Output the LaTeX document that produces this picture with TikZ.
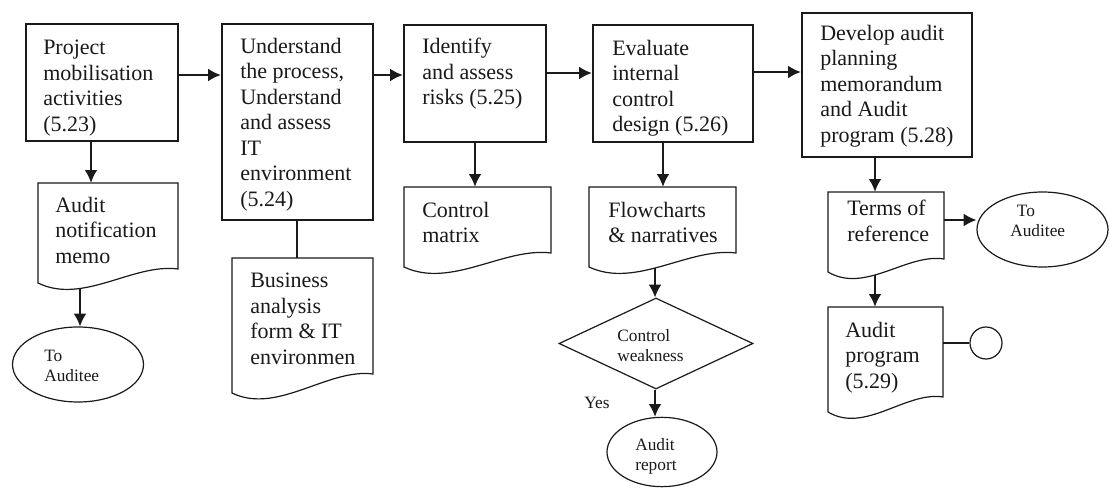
\documentclass[tikz,border=0pt]{standalone}
\usepackage{fontspec}
\setmainfont{Liberation Serif}
\usetikzlibrary{shapes.geometric,arrows.meta,fit,calc}

\definecolor{ink}{HTML}{1A1A1A}

\tikzset{
  proc/.style={draw=ink, line width=1.8pt, inner sep=0pt},
  docline/.style={draw=ink, line width=0.9pt},
  docarea/.style={inner sep=0pt},
  txt/.style={anchor=north west, inner sep=0pt, align=left, text=ink,
    font=\fontsize{16.5}{19.1}\selectfont},
  smalltxt/.style={anchor=north west, inner sep=0pt, align=left, text=ink,
    font=\fontsize{13}{15}\selectfont},
  term/.style={ellipse, draw=ink, line width=0.9pt, inner sep=0pt},
  decision/.style={diamond, draw=ink, line width=0.9pt, inner sep=0pt},
  connector/.style={circle, draw=ink, line width=0.9pt, inner sep=0pt, minimum size=24pt},
  arr/.style={draw=ink, line width=1.1pt, -{Latex[length=9.5pt,width=9.5pt]}},
  link/.style={draw=ink, line width=1.1pt},
}

% document symbol: name, left, top, right, bottom-left, bottom-right
\newcommand{\docshape}[6]{%
  \pgfmathsetmacro{\dw}{#4-#2}%
  \draw[docline] (#2,#3) -- (#4,#3) -- (#4,#6)
    .. controls ({#2+0.68*\dw},{#6-6}) and ({#2+0.32*\dw},{#5+22}) .. (#2,#5) -- cycle;
  \node[docarea, fit={(#2,#3) (#4,#6)}] (#1) {};
}

\begin{document}
\begin{tikzpicture}[x=0.75pt, y=-0.75pt]
\useasboundingbox (0,0) rectangle (1110,488);
\fill[white] (0,0) rectangle (1110,488);

% process steps
\node[proc, fit={(26,24) (178,141)}] (p1) {};
\node[proc, fit={(222,24) (373,220)}] (p2) {};
\node[proc, fit={(404,25) (546,142)}] (p3) {};
\node[proc, fit={(593,25) (753,142)}] (p4) {};
\node[proc, fit={(802,13) (972,157)}] (p5) {};

\node[txt] (p1t) at (43,40) {Project\\mobilisation\\activities\\(5.23)};
\node[txt] (p2t) at (240,38) {Understand\\the process,\\Understand\\and assess\\IT\\environment\\(5.24)};
\node[txt] (p3t) at (422,38) {Identify\\and assess\\risks (5.25)};
\node[txt] (p4t) at (612,40) {Evaluate\\internal\\control\\design (5.26)};
\node[txt] (p5t) at (820,25) {Develop audit\\planning\\memorandum\\and Audit\\program (5.28)};

% documents
\docshape{d1}{38}{183}{178}{283}{269}
\docshape{d2}{232}{258}{373}{393}{374}
\docshape{d3}{404}{187}{551}{267}{253}
\docshape{d4}{589}{187}{736}{267}{253}
\docshape{d5}{828}{192}{944}{272}{259}
\docshape{d6}{828}{307}{943}{412}{397}

\node[txt] (d1t) at (55,197) {Audit\\notification\\memo};
\node[txt] (d2t) at (250,273) {Business\\analysis\\form \& IT\\environmen};
\node[txt] (d3t) at (422,202) {Control\\matrix};
\node[txt] (d4t) at (608,202) {Flowcharts\\\& narratives};
\node[txt] (d5t) at (847,200) {Terms of\\reference};
\node[txt] (d6t) at (845,322) {Audit\\program\\(5.29)};

% terminals, decision, connector
\node[term, minimum width=98.25pt, minimum height=56.25pt] (e1) at (78,364.5) {};
\node[term, minimum width=98.25pt, minimum height=56.25pt] (e2) at (1042.5,229.5) {};
\node[term, minimum width=82.5pt, minimum height=52pt] (e3) at (662,452) {};
\node[decision, minimum width=145.5pt, minimum height=68.25pt] (dia) at (656,343.5) {};
\node[connector] (cc) at (986,343) {};

\node[smalltxt] (e1t) at (44,350) {To\\Auditee};
\node[smalltxt] (e2t) at (1010,205) {\hspace{5pt}To\\Auditee};
\node[smalltxt] (e3t) at (635,438) {Audit\\report};
\node[smalltxt] (diat) at (617,329) {Control\\weakness};
\node[smalltxt] (yes) at (584,397) {Yes};

% guide coordinates for connector positions
\coordinate (r1) at (0,75);
\coordinate (r2) at (0,75);
\coordinate (r3) at (0,73);
\coordinate (r4) at (0,72);
\coordinate (r5) at (0,220);
\coordinate (r6) at (0,343);
\coordinate (c1) at (91,0);
\coordinate (c2) at (297,0);
\coordinate (c3) at (475,0);
\coordinate (c4) at (663,0);
\coordinate (c5) at (875,0);
\coordinate (d1b) at (80,288.5);
\coordinate (d4b) at (655,268);
\coordinate (d5b) at (875,275);

% main flow
\draw[arr] (p1.east |- r1) -- (p2.west |- r1);
\draw[arr] (p2.east |- r2) -- (p3.west |- r2);
\draw[arr] (p3.east |- r3) -- (p4.west |- r3);
\draw[arr] (p4.east |- r4) -- (p5.west |- r4);

% outputs
\draw[arr] (p1.south -| c1) -- (d1.north -| c1);
\draw[arr] (d1b) -- (e1.north -| d1b);
\draw[link] (p2.south -| c2) -- (d2.north -| c2);
\draw[arr] (p3.south -| c3) -- (d3.north -| c3);
\draw[arr] (p4.south -| c4) -- (d4.north -| c4);
\draw[arr] (d4b) -- (dia.north -| d4b);
\draw[arr] (dia.south -| d4b) -- (e3.north -| d4b);
\draw[arr] (p5.south -| c5) -- (d5.north -| c5);
\draw[arr] (d5.east |- r5) -- (e2.west |- r5);
\draw[arr] (d5b) -- (d6.north -| d5b);
\draw[link] (d6.east |- r6) -- (cc.west);
\end{tikzpicture}
\end{document}
